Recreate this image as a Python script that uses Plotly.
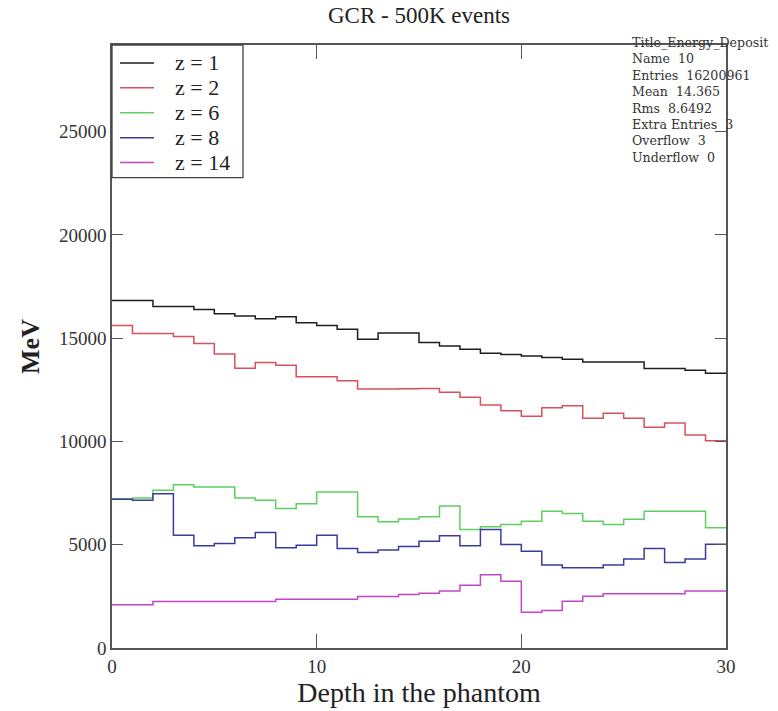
import plotly.graph_objects as go

# Depth bins (phantom slices) and deposited energy per slice, MeV
bin_edges = [0, 1, 2, 3, 4, 5, 6, 7, 8, 9, 10, 11, 12, 13, 14, 15,
             16, 17, 18, 19, 20, 21, 22, 23, 24, 25, 26, 27, 28, 29, 30]

edep_z1 = [16830, 16830, 16540, 16540, 16395, 16185, 16075, 15945, 16040, 15750,
           15620, 15430, 14950, 15250, 15250, 14790, 14630, 14470, 14270, 14210,
           14140, 14065, 13985, 13855, 13855, 13855, 13535, 13535, 13450, 13310]
edep_z2 = [15620, 15230, 15230, 15090, 14750, 14240, 13550, 13825, 13695, 13130,
           13130, 12940, 12540, 12540, 12560, 12570, 12380, 12140, 11765, 11490,
           11220, 11635, 11735, 11125, 11365, 11125, 10690, 10900, 10320, 10030]
edep_z6 = [7230, 7260, 7635, 7910, 7795, 7795, 7265, 7150, 6750, 6990,
           7555, 7555, 6350, 6110, 6250, 6350, 6880, 5740, 5870, 5980,
           6140, 6620, 6510, 6140, 5980, 6235, 6620, 6620, 6620, 5820]
edep_z8 = [7200, 7150, 7475, 5465, 4950, 5063, 5340, 5595, 4855, 4980,
           5465, 4820, 4630, 4740, 4920, 5175, 5435, 4950, 5740, 5015,
           4690, 4020, 3890, 3890, 4020, 4305, 4820, 4145, 4305, 5030]
edep_z14 = [2090, 2090, 2250, 2250, 2250, 2250, 2250, 2250, 2360, 2360,
            2360, 2360, 2490, 2490, 2590, 2650, 2765, 3040, 3550, 3230,
            1730, 1815, 2260, 2500, 2630, 2630, 2630, 2630, 2765, 2765]

series_names = ["z = 1", "z = 2", "z = 6", "z = 8", "z = 14"]
series_values = [edep_z1, edep_z2, edep_z6, edep_z8, edep_z14]
series_colors = ["#1e1e1e", "#d9505c", "#5fcf5f", "#3b3b9e", "#c445c8"]

stats_lines = ["Title_Energy_Deposit", "Name  10", "Entries  16200961", "Mean  14.365",
               "Rms  8.6492", "Extra Entries  3", "Overflow  3", "Underflow  0"]

SERIF = "Liberation Serif, Times New Roman, serif"

# plot-area geometry in pixels (used to place the key box and stats block)
W, H = 778, 711
ML, MR, MT, MB = 112, 52, 45, 61
PW, PH = W - ML - MR, H - MT - MB


def px_x(px):
    return (px - ML) / PW


def px_y(py):
    return (H - MB - py) / PH


fig = go.Figure()
for name, vals, col in zip(series_names, series_values, series_colors):
    # step histogram: each value holds across its bin, last value closes at the right edge
    fig.add_trace(go.Scatter(
        x=bin_edges,
        y=list(vals) + [vals[-1]],
        mode="lines",
        line=dict(shape="hv", color=col, width=1.5),
        name=name,
        showlegend=False,
    ))

axis_common = dict(
    showgrid=False, zeroline=False,
    showline=True, linecolor="#555555", linewidth=1.6, mirror="ticks",
    ticks="inside", tickcolor="#555555", tickwidth=1.4,
    tickfont=dict(family=SERIF, size=19, color="#333333"),
)

fig.update_layout(
    width=W, height=H,
    margin=dict(l=ML, r=MR, t=MT, b=MB),
    paper_bgcolor="white", plot_bgcolor="white",
    title=dict(text="GCR - 500K events", xref="paper", x=0.5, xanchor="center",
               yref="container", y=1 - 15 / H, yanchor="middle",
               font=dict(family=SERIF, size=23, color="#222222")),
    xaxis=dict(range=[0, 30], tickvals=[0, 10, 20, 30], ticklen=14,
               title=dict(text="Depth in the phantom", standoff=3,
                          font=dict(family=SERIF, size=28, color="#222222")),
               **axis_common),
    yaxis=dict(range=[0, 29200], tickvals=[0, 5000, 10000, 15000, 20000, 25000],
               tickformat="d", ticklen=11,
               title=dict(text="<b>MeV</b>", standoff=12,
                          font=dict(family=SERIF, size=26, color="#222222")),
               **axis_common),
    showlegend=False,
)

# key box in the upper-left corner of the frame
box_l, box_r, box_t, box_b = 112, 243, 45, 178
fig.add_shape(type="rect", xref="paper", yref="paper",
              x0=px_x(box_l), x1=px_x(box_r), y0=px_y(box_b), y1=px_y(box_t),
              line=dict(color="#444444", width=1.3), fillcolor="white", layer="above")
row_y = [63, 88, 113, 138, 163]
for name, col, ry in zip(series_names, series_colors, row_y):
    fig.add_shape(type="line", xref="paper", yref="paper",
                  x0=px_x(120), x1=px_x(154), y0=px_y(ry), y1=px_y(ry),
                  line=dict(color=col, width=1.5), layer="above")
    fig.add_annotation(xref="paper", yref="paper", x=px_x(173), y=px_y(ry),
                       xanchor="left", yanchor="middle", showarrow=False,
                       text=name, font=dict(family=SERIF, size=22, color="#222222"))

# histogram statistics block at the top right
fig.add_annotation(
    xref="paper", yref="paper",
    x=px_x(630), y=px_y(33),
    xanchor="left", yanchor="top", align="left", showarrow=False,
    text="<br>".join(stats_lines),
    font=dict(family="DejaVu Serif, serif", size=12.6, color="#333333"),
)

fig.write_html("out.html")
